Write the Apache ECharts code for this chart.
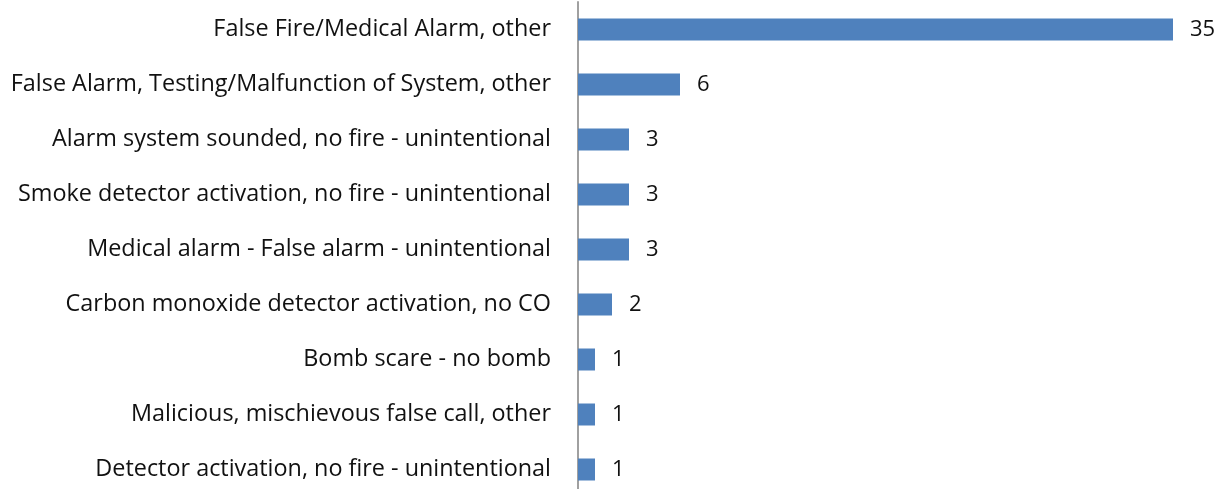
<!DOCTYPE html>
<html>
<head>
<meta charset="utf-8">
<script src="https://cdn.jsdelivr.net/npm/echarts@6/dist/echarts.min.js"></script>
<style>
  html, body { margin: 0; padding: 0; background: #fff; overflow: hidden; }
  #chart { width: 1227px; height: 497px; }
</style>
</head>
<body>
<div id="chart"></div>
<script>
// categories, top to bottom
const categories = [
  'False Fire/Medical Alarm, other',
  'False Alarm, Testing/Malfunction of System, other',
  'Alarm system sounded, no fire - unintentional',
  'Smoke detector activation, no fire - unintentional',
  'Medical alarm - False alarm - unintentional',
  'Carbon monoxide detector activation, no CO',
  'Bomb scare - no bomb',
  'Malicious, mischievous false call, other',
  'Detector activation, no fire - unintentional'
]
const counts = [35, 6, 3, 3, 3, 2, 1, 1, 1]

const chart = echarts.init(document.getElementById('chart'))
chart.setOption({
  animation: false,
  grid: { left: 578, top: 2, width: 595, height: 495 },
  xAxis: {
    type: 'value',
    min: 0,
    max: 35,
    show: false
  },
  yAxis: {
    type: 'category',
    inverse: true,
    data: categories,
    axisLine: { show: true, lineStyle: { color: '#a0a0a0', width: 2 } },
    axisTick: { show: false },
    axisLabel: {
      margin: 27,
      fontFamily: 'Open Sans',
      fontSize: 23.4,
      color: '#111'
    }
  },
  series: [{
    type: 'bar',
    data: counts,
    barWidth: 22,
    itemStyle: { color: '#4f81bd' },
    label: {
      show: true,
      position: 'right',
      distance: 17,
      fontFamily: 'Open Sans',
      fontSize: 22,
      color: '#111'
    }
  }]
})
</script>
</body>
</html>
